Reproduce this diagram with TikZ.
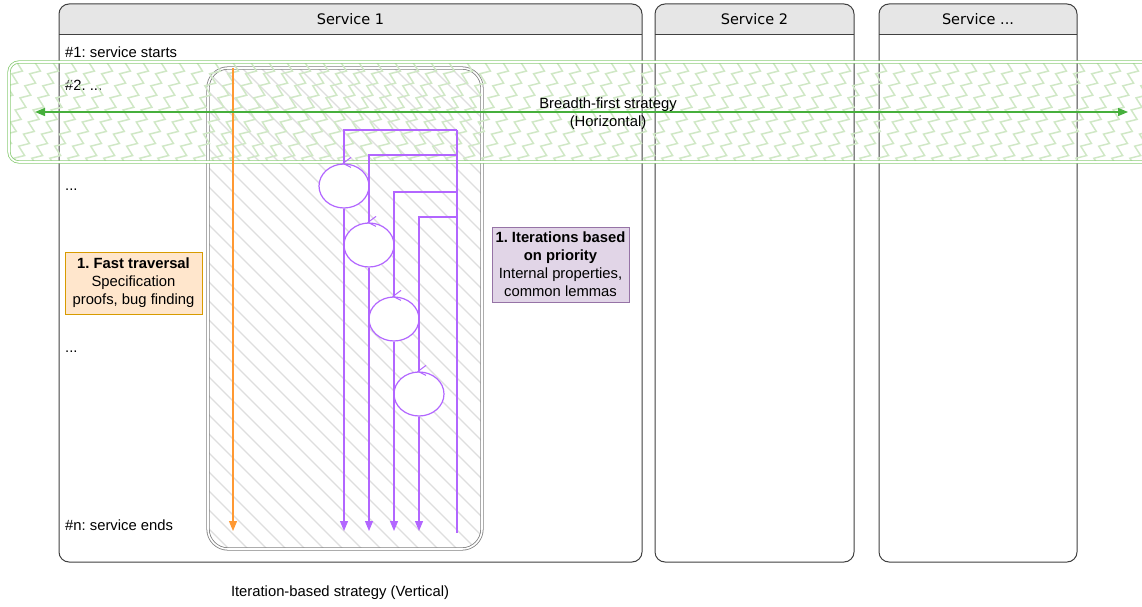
\documentclass[tikz,border=0pt]{standalone}
\usepackage{fontspec}
\setmainfont{Liberation Sans}
\newfontfamily\headfont{DejaVu Sans}
\usetikzlibrary{arrows.meta, decorations.pathmorphing, positioning, calc, shapes.geometric}
\definecolor{lanegray}{RGB}{230,230,230}
\definecolor{bandgreen}{RGB}{140,205,120}
\definecolor{arrowgreen}{RGB}{70,175,60}
\definecolor{zigzaggreen}{RGB}{208,232,198}
\definecolor{loopviolet}{RGB}{178,102,255}
\definecolor{fastorange}{RGB}{255,153,51}
\definecolor{orangefill}{RGB}{255,230,204}
\definecolor{orangeline}{RGB}{215,155,0}
\definecolor{violetfill}{RGB}{225,213,231}
\definecolor{violetline}{RGB}{150,115,166}
\definecolor{hatchgray}{RGB}{222,222,222}
\newcommand{\lanedots}{...}
\frenchspacing

\begin{document}
\begin{tikzpicture}[
  x = 1pt, y = -1pt,
  font = \fontsize{14.8}{18}\selectfont,
  > = {Triangle[length=10pt, width=8pt]},
  lane/.style = {draw=black!75, line width=1pt, rounded corners=10pt},
  step label/.style = {anchor=west, inner sep=0pt},
  loop line/.style = {draw=loopviolet, line width=1.2pt},
  loop circle/.style = {ellipse, draw=loopviolet, line width=1.2pt, fill=white,
    minimum width=50pt, minimum height=44pt, inner sep=0pt},
  note box/.style = {draw, line width=0.8pt, align=center, inner sep=0pt}
]
  \useasboundingbox (0,0) rectangle (1142,607);

  % service lanes
  \foreach \xa/\xb/\title/\name in {59/642/Service 1/s1, 655/854/Service 2/s2, 879/1077/Service \lanedots/s3} {
    \fill[white, rounded corners=10pt] (\xa,4) rectangle (\xb,562);
    \begin{scope}
      \clip (\xa-5,0) rectangle (\xb+5,35);
      \fill[lanegray, rounded corners=10pt] (\xa,4) rectangle (\xb,562);
    \end{scope}
    \draw[lane] (\xa,4) rectangle (\xb,562);
    \draw[black!75, line width=1pt] (\xa,35) -- (\xb,35);
    \node[font=\headfont\fontsize{14.5}{18}\selectfont] (hdr\name) at ({(\xa+\xb)/2},19) {\title};
  }

  \node[step label] (step1) at (65,52) {\#1: service starts};
  \node[step label] (step2) at (65,85) {\#2. ...};
  \node[step label] (dots1) at (65,190) {...};
  \node[step label] (dots2) at (65,352) {...};
  \node[step label] (stepn) at (65,525) {\#n: service ends};

  % iteration box with hatching
  \begin{scope}
    \clip[rounded corners=20pt] (208,68) rectangle (482,549);
    \fill[white] (208,68) rectangle (482,549);
    \foreach \i in {-290,-271,...,490}
      \draw[hatchgray, line width=1.4pt] (\i,68) -- ++(481,481);
  \end{scope}
  \draw[black!50, line width=0.8pt, double=white, double distance=1.6pt, rounded corners=20pt]
    (208,68) rectangle (482,549);

  % breadth-first band
  \begin{scope}
    \clip[rounded corners=10pt] (9,62) rectangle (1160,162);
    \foreach \i in {-60,-42,...,1160}
      \draw[zigzaggreen, line width=1.5pt,
            decorate, decoration={zigzag, segment length=13pt, amplitude=4.5pt}]
        (\i,175) -- ++(50,-125);
  \end{scope}
  \draw[bandgreen, line width=0.8pt, double=white, double distance=1.6pt, rounded corners=10pt]
    (9,62) rectangle (1160,162);

  % fast traversal
  \coordinate (fast top) at (233,68);
  \coordinate (fast end) at (233,531);
  \draw[fastorange, line width=1.2pt, ->] (fast top) -- (fast end);

  % iterations based on priority
  \node[loop circle] (c1) at (344,186) {};
  \node[loop circle] (c2) at (369,245) {};
  \node[loop circle] (c3) at (394,319) {};
  \node[loop circle] (c4) at (419,394) {};
  \coordinate (rail end) at (457,533);
  \foreach \c/\y in {c1/130, c2/155, c3/192, c4/217} {
    \coordinate (rail \c) at (457,\y);
    \draw[loop line] (rail \c) -| (\c.north);
    \draw[loop line, ->] (\c.south) -- (\c.south |- fast end);
    \draw[loop line, line width=1pt] ($(\c.north)+(7,-6)$) -- ($(\c.north)+(-1,0)$) -- ($(\c.north)+(7,4)$);
  }
  \draw[loop line] (rail c1) -- (rail end);

  % breadth-first arrow
  \coordinate (band left) at (35,112);
  \coordinate (band right) at (1128,112);
  \draw[arrowgreen, line width=1.3pt, <->] (band left) -- (band right);
  \node[align=center] (band label) at (608,114) {Breadth-first strategy\\(Horizontal)};

  % notes
  \node[note box, draw=orangeline, fill=orangefill, minimum width=137pt, minimum height=62pt]
    (fast note) at (133.5,283) {\textbf{1. Fast traversal}\\Specification\\proofs, bug finding};
  \node[note box, draw=violetline, fill=violetfill, minimum width=137pt, minimum height=75pt]
    (prio note) at (560.5,264.5) {\textbf{1. Iterations based}\\\textbf{on priority}\\Internal properties,\\common lemmas};

  \node (iter label) at (340,593) {Iteration-based strategy (Vertical)};
\end{tikzpicture}
\end{document}
